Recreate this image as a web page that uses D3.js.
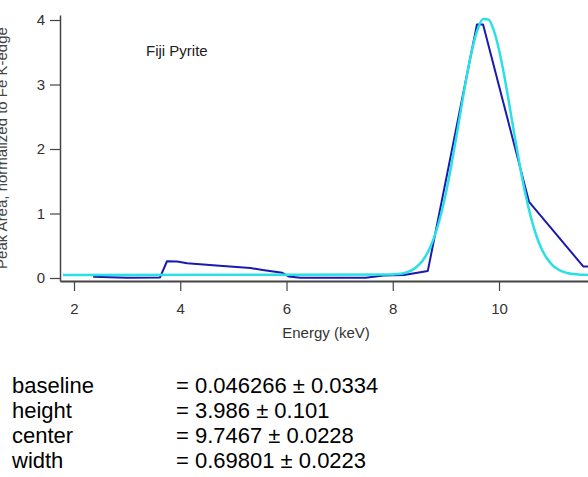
<!DOCTYPE html>
<html>
<head>
<meta charset="utf-8">
<script src="https://cdn.jsdelivr.net/npm/d3@7"></script>
<style>
  html, body { margin: 0; padding: 0; background: #fff; }
  svg { display: block; font-family: Arial, "Liberation Sans", sans-serif; }
</style>
</head>
<body>
<svg id="chart" width="588" height="477"></svg>
<script>
// Measured spectrum (keV, peak area)
const measuredEnergy = [2.36, 3.00, 3.62, 3.64, 3.75, 3.94, 4.13, 4.74, 5.32, 5.55, 5.92, 6.04, 6.26, 7.49, 7.83, 8.21, 8.66, 9.585, 9.70, 10.566, 11.585, 11.70];
const measuredValue  = [0.02, 0.005, 0.008, 0.05, 0.26, 0.255, 0.23, 0.19, 0.155, 0.125, 0.08, 0.025, 0.005, 0.005, 0.04, 0.045, 0.11, 3.93, 3.93, 1.18, 0.18, 0.18];

// Gaussian fit curve, sampled
const fitEnergy = [1.79, 8.0, 8.1, 8.2, 8.3, 8.4, 8.5, 8.6, 8.7, 8.8, 8.9, 9.0, 9.1, 9.2, 9.3, 9.4, 9.5, 9.6, 9.7, 9.8, 9.9, 10.0, 10.1, 10.2, 10.3, 10.4, 10.5, 10.6, 10.7, 10.8, 10.9, 11.0, 11.1, 11.2, 11.3, 11.4, 11.5, 11.6, 11.7];
const fitValue  = [0.046, 0.054, 0.061, 0.075, 0.100, 0.142, 0.210, 0.314, 0.467, 0.679, 0.961, 1.315, 1.735, 2.204, 2.692, 3.161, 3.564, 3.860, 4.014, 4.009, 3.844, 3.540, 3.131, 2.660, 2.173, 1.706, 1.290, 0.941, 0.663, 0.455, 0.306, 0.205, 0.139, 0.098, 0.074, 0.061, 0.053, 0.049, 0.047];

const xTicks = [2, 4, 6, 8, 10];
const yTicks = [0, 1, 2, 3, 4];

const fitNames  = ["baseline", "height", "center", "width"];
const fitParams = ["= 0.046266 \u00b1 0.0334", "= 3.986 \u00b1 0.101", "= 9.7467 \u00b1 0.0228", "= 0.69801 \u00b1 0.0223"];

const svg = d3.select("#chart");

const x = d3.scaleLinear().domain([1.7365, 11.675]).range([60, 588]);
const y = d3.scaleLinear().domain([-0.0465, 4.0775]).range([281, 15]);

// Axes
const axisColor = "#444";
const gx = svg.append("g").attr("transform", "translate(0,281)")
  .call(d3.axisBottom(x).tickValues(xTicks).tickSize(10).tickSizeOuter(0).tickPadding(12).tickFormat(d3.format("d")));
const gy = svg.append("g").attr("transform", "translate(60,0)")
  .call(d3.axisLeft(y).tickValues(yTicks).tickSize(10).tickSizeOuter(0).tickPadding(5).tickFormat(d3.format("d")));

[gx, gy].forEach(g => {
  g.select(".domain").attr("stroke", axisColor).attr("stroke-width", 1.5);
  g.selectAll(".tick line").attr("stroke", axisColor).attr("stroke-width", 1.2);
  g.selectAll(".tick text").attr("fill", "#333").style("font-size", "15px")
    .style("font-family", "Arial, 'Liberation Sans', sans-serif");
});
gx.select(".domain").attr("stroke-width", 2);

// Axis titles
svg.append("text").attr("x", 326).attr("y", 338).attr("text-anchor", "middle")
  .attr("fill", "#333").style("font-size", "15px").text("Energy (keV)");
svg.append("text").attr("transform", "translate(7,148) rotate(-90)").attr("text-anchor", "middle")
  .attr("fill", "#444").style("font-size", "15px").text("Peak Area, normalized to Fe K-edge");

// Sample name
svg.append("text").attr("x", 146).attr("y", 56).attr("fill", "#222")
  .style("font-size", "15px").text("Fiji Pyrite");

// Curves
svg.append("clipPath").attr("id", "plotClip")
  .append("rect").attr("x", 61).attr("y", 0).attr("width", 527).attr("height", 280);

const line = d3.line().x(d => x(d[0])).y(d => y(d[1]));

svg.append("path")
  .datum(measuredEnergy.map((e, i) => [e, measuredValue[i]]))
  .attr("clip-path", "url(#plotClip)")
  .attr("fill", "none").attr("stroke", "#1a1ab0").attr("stroke-width", 2)
  .attr("stroke-linejoin", "round").attr("d", line);

svg.append("path")
  .datum(fitEnergy.map((e, i) => [e, fitValue[i]]))
  .attr("clip-path", "url(#plotClip)")
  .attr("fill", "none").attr("stroke", "#2ae0e6").attr("stroke-width", 2.5)
  .attr("stroke-linejoin", "round").attr("d", d3.line().curve(d3.curveMonotoneX).x(d => x(d[0])).y(d => y(d[1])));

// Fit results
const rows = svg.append("g").style("font-size", "22px").attr("fill", "#000");
fitNames.forEach((n, i) => {
  rows.append("text").attr("x", 12).attr("y", 393 + i * 25).text(n);
  rows.append("text").attr("x", 176).attr("y", 393 + i * 25).text(fitParams[i]);
});
</script>
</body>
</html>
